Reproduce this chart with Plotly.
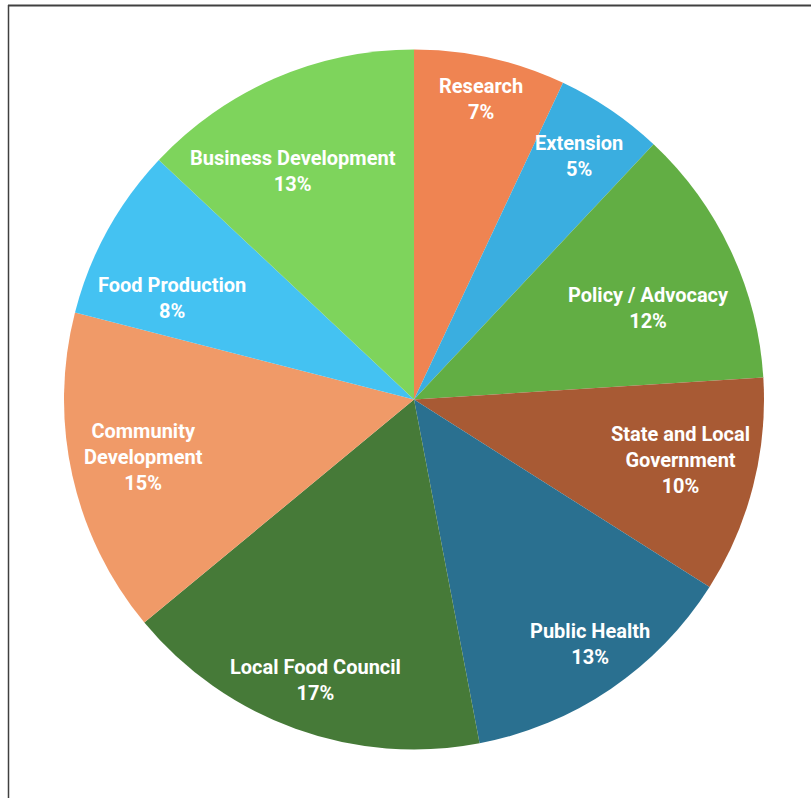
import math
import plotly.graph_objects as go

# ---- data ----
categories = ["Research", "Extension", "Policy / Advocacy", "State and Local Government",
              "Public Health", "Local Food Council", "Community Development",
              "Food Production", "Business Development"]
display_labels = ["Research", "Extension", "Policy / Advocacy", "State and Local<br>Government",
                  "Public Health", "Local Food Council", "Community<br>Development",
                  "Food Production", "Business Development"]
values = [7, 5, 12, 10, 13, 17, 15, 8, 13]

# ---- style ----
colors = ["#EF8452", "#3AAEE0", "#62AE44", "#A85A34", "#2A7090",
          "#467A38", "#F09A68", "#44C2F2", "#7ED45C"]
label_radius = [0.88, 0.84, 0.72, 0.78, 0.86, 0.85, 0.79, 0.75, 0.74]
label_nudge_deg = [0, 0, 4, -1.5, -1.5, -0.5, 0.5, -6, -4.5]

W, H = 811, 798
cx, cy, r = 414, 399.5, 350

fig = go.Figure(go.Pie(
    labels=categories,
    values=values,
    textinfo="none",
    marker=dict(colors=colors, line=dict(width=0)),
    sort=False,
    direction="clockwise",
    rotation=0,
    showlegend=False,
    hoverinfo="label+percent",
    domain=dict(x=[(cx - r) / W, (cx + r) / W], y=[(H - cy - r) / H, (H - cy + r) / H]),
))

total = sum(values)
annotations = []
cum = 0
for lab, v, f, nd in zip(display_labels, values, label_radius, label_nudge_deg):
    theta = math.radians(360 * (cum + v / 2) / total + nd)
    cum += v
    px = cx + f * r * math.sin(theta)
    py = cy - f * r * math.cos(theta)
    pct = round(100 * v / total)
    annotations.append(dict(
        x=px / W, y=1 - py / H, xref="paper", yref="paper",
        text=f"<b>{lab}</b><br><b>{pct}%</b>",
        showarrow=False, xanchor="center", yanchor="middle",
        font=dict(family="Roboto", size=20, color="white"),
    ))

fig.update_layout(
    width=W, height=H,
    margin=dict(l=0, r=0, t=0, b=0),
    paper_bgcolor="white",
    annotations=annotations,
    shapes=[
        dict(type="line", xref="paper", yref="paper", x0=8 / W, x1=1, y0=1 - 5.5 / H, y1=1 - 5.5 / H,
             line=dict(color="#404040", width=2)),
        dict(type="line", xref="paper", yref="paper", x0=8.5 / W, x1=8.5 / W, y0=0, y1=1 - 5 / H,
             line=dict(color="#404040", width=1.5)),
    ],
)

fig.write_html("out.html")
